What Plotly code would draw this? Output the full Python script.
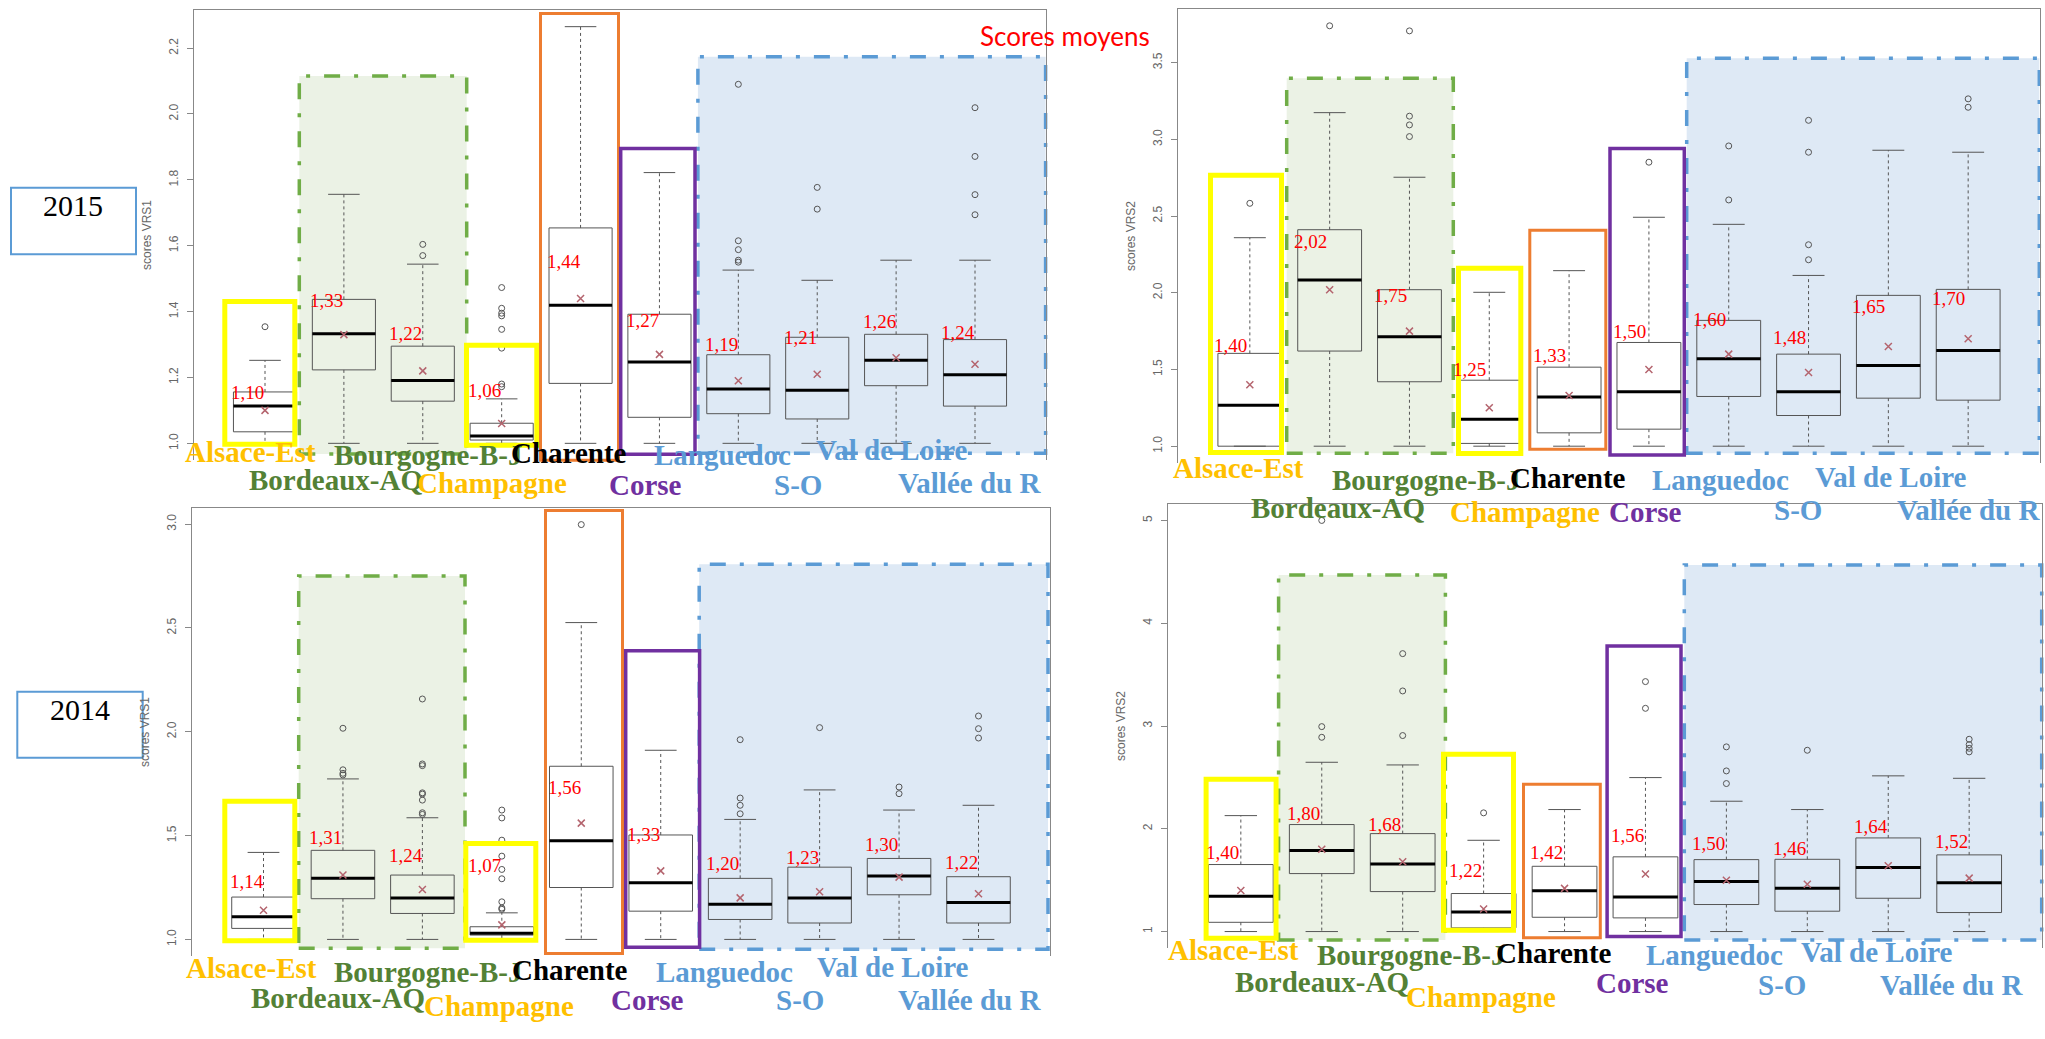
import plotly.graph_objects as go

# ---------------------------------------------------------------- data
REGIONS = ["Alsace-Est", "Bordeaux-AQ", "Bourgogne-B-J", "Champagne", "Charente",
           "Corse", "Languedoc", "S-O", "Val de Loire", "Vallée du R"]

# 2015 - scores VRS1
Q1_2015_VRS1 = [1.035, 1.223, 1.128, 1.010, 1.182, 1.079, 1.090, 1.074, 1.175, 1.113]
MED_2015_VRS1 = [1.113, 1.333, 1.191, 1.022, 1.419, 1.247, 1.165, 1.161, 1.252, 1.208]
Q3_2015_VRS1 = [1.156, 1.437, 1.295, 1.061, 1.654, 1.392, 1.269, 1.322, 1.331, 1.315]
LO_2015_VRS1 = [1.0] * 10
HI_2015_VRS1 = [1.252, 1.756, 1.544, 1.135, 2.265, 1.822, 1.526, 1.495, 1.556, 1.556]
MEAN_2015_VRS1 = [1.10, 1.33, 1.22, 1.06, 1.44, 1.27, 1.19, 1.21, 1.26, 1.24]
OUT_2015_VRS1 = [[1.354], [], [1.570, 1.604],
                 [1.172, 1.180, 1.289, 1.346, 1.387, 1.395, 1.410, 1.473],
                 [], [], [1.550, 1.556, 1.588, 1.615, 2.090], [1.711, 1.777], [],
                 [1.694, 1.755, 1.871, 2.019]]
TICKS_2015_VRS1 = [1.0, 1.2, 1.4, 1.6, 1.8, 2.0, 2.2]

# 2015 - scores VRS2
Q1_2015_VRS2 = [1.000, 1.620, 1.420, 1.018, 1.087, 1.111, 1.324, 1.200, 1.313, 1.300]
MED_2015_VRS2 = [1.267, 2.083, 1.713, 1.176, 1.320, 1.354, 1.570, 1.354, 1.526, 1.624]
Q3_2015_VRS2 = [1.605, 2.411, 2.020, 1.430, 1.515, 1.676, 1.820, 1.600, 1.983, 2.022]
LO_2015_VRS2 = [1.0] * 10
HI_2015_VRS2 = [2.359, 3.174, 2.753, 2.003, 2.144, 2.492, 2.446, 2.113, 2.929, 2.916]
MEAN_2015_VRS2 = [1.40, 2.02, 1.75, 1.25, 1.33, 1.50, 1.60, 1.48, 1.65, 1.70]
OUT_2015_VRS2 = [[2.583], [3.740], [3.018, 3.094, 3.151, 3.707], [], [], [2.851],
                 [2.605, 2.957], [2.215, 2.313, 2.916, 3.124], [], [3.209, 3.264]]
TICKS_2015_VRS2 = [1.0, 1.5, 2.0, 2.5, 3.0, 3.5]

# 2014 - scores VRS1
Q1_2014_VRS1 = [1.053, 1.196, 1.125, 1.021, 1.250, 1.136, 1.096, 1.079, 1.215, 1.079]
MED_2014_VRS1 = [1.109, 1.295, 1.200, 1.030, 1.475, 1.273, 1.169, 1.200, 1.305, 1.178]
Q3_2014_VRS1 = [1.204, 1.429, 1.310, 1.061, 1.834, 1.503, 1.294, 1.348, 1.390, 1.302]
LO_2014_VRS1 = [1.0] * 10
HI_2014_VRS1 = [1.419, 1.773, 1.586, 1.128, 2.526, 1.911, 1.578, 1.720, 1.623, 1.646]
MEAN_2014_VRS1 = [1.14, 1.31, 1.24, 1.07, 1.56, 1.33, 1.20, 1.23, 1.30, 1.22]
OUT_2014_VRS1 = [[], [1.792, 1.800, 1.817, 2.017],
                 [1.602, 1.610, 1.671, 1.700, 1.706, 1.837, 1.845, 2.158],
                 [1.145, 1.151, 1.181, 1.292, 1.337, 1.401, 1.478, 1.585, 1.623],
                 [2.998], [], [1.605, 1.646, 1.681, 1.962], [2.020], [1.702, 1.734],
                 [1.970, 2.015, 2.076]]
TICKS_2014_VRS1 = [1.0, 1.5, 2.0, 2.5, 3.0]

# 2014 - scores VRS2
Q1_2014_VRS2 = [1.090, 1.564, 1.389, 1.036, 1.139, 1.133, 1.263, 1.198, 1.324, 1.185]
MED_2014_VRS2 = [1.343, 1.788, 1.658, 1.191, 1.396, 1.337, 1.486, 1.421, 1.623, 1.474]
Q3_2014_VRS2 = [1.652, 2.041, 1.953, 1.370, 1.635, 1.727, 1.700, 1.703, 1.911, 1.746]
LO_2014_VRS2 = [1.0] * 10
HI_2014_VRS2 = [2.128, 2.647, 2.621, 1.888, 2.187, 2.498, 2.268, 2.187, 2.515, 2.491]
MEAN_2014_VRS2 = [1.40, 1.80, 1.68, 1.22, 1.42, 1.56, 1.50, 1.46, 1.64, 1.52]
OUT_2014_VRS2 = [[], [2.890, 2.994, 5.000], [2.907, 3.341, 3.704], [2.155], [],
                 [3.172, 3.432], [2.440, 2.563, 2.797], [2.764], [],
                 [2.748, 2.783, 2.819, 2.871]]
TICKS_2014_VRS2 = [1, 2, 3, 4, 5]

# ---------------------------------------------------------------- styles
W, H = 2045, 1039
GOLD, GREEN, PURPLE, BLUE = "#FFC000", "#538135", "#7030A0", "#5B9BD5"
REGION_COLORS = [GOLD, GREEN, GREEN, GOLD, "#000000", PURPLE, BLUE, BLUE, BLUE, BLUE]
BOX_HALF = 0.4
CAP_HALF = 0.2
AX_COLOR = "#888888"
BOX_COLOR = "#555555"
REGION_DASH = "16px,14px,4px,14px"


def px(x):
    return x / W


def py(y):
    return 1 - y / H


# panel layout: pixel frames, label nudges and overlay rectangles (x0, y0, x1, y1)
PANELS = [
    dict(data=(Q1_2015_VRS1, MED_2015_VRS1, Q3_2015_VRS1, LO_2015_VRS1, HI_2015_VRS1,
               MEAN_2015_VRS1, OUT_2015_VRS1), ticks=TICKS_2015_VRS1, fmt=".1f",
         title="scores VRS1", xpx=(194, 1046), ypx=(10, 460),
         mean_dx=-4, mean_dy=[-1, -1, 13, 33, -34, -6, 10, 0, 13, 7],
         cat_dx=[-15, -8, 6, -10, -12, -14, -16, -19, -4, -6],
         cat_y=[452, 480, 455, 483, 453, 485, 455, 485, 450, 483],
         green=(299.3, 76, 466.7, 454), blue=(697.9, 56.7, 1045.6, 453.3),
         yellow=[(224.8, 301.5, 294.8, 444.2), (466.5, 345.2, 536.8, 445.2)],
         orange=(540.5, 13.5, 618.5, 460.2), purple=(620.7, 148.4, 695, 454.2)),
    dict(data=(Q1_2015_VRS2, MED_2015_VRS2, Q3_2015_VRS2, LO_2015_VRS2, HI_2015_VRS2,
               MEAN_2015_VRS2, OUT_2015_VRS2), ticks=TICKS_2015_VRS2, fmt=".1f",
         title="scores VRS2", xpx=(1178, 2040), ypx=(9, 463),
         mean_dx=-6, mean_dy=[8, -12, -6, 11, 12, 11, 1, 17, -11, -9],
         cat_dx=[-11, 8, 17, 36, -1, -3, -8, -11, 3, 0],
         cat_y=[468, 508, 480, 512, 478, 512, 480, 510, 477, 510],
         green=(1286.7, 78.3, 1453.3, 453.3), blue=(1686.7, 58.3, 2039.3, 453.3),
         yellow=[(1210.5, 175.2, 1281.5, 452.5), (1458.5, 268.2, 1520.8, 453.5)],
         orange=(1529.8, 230.2, 1605.8, 449.2), purple=(1610, 148.4, 1684.3, 455)),
    dict(data=(Q1_2014_VRS1, MED_2014_VRS1, Q3_2014_VRS1, LO_2014_VRS1, HI_2014_VRS1,
               MEAN_2014_VRS1, OUT_2014_VRS1), ticks=TICKS_2014_VRS1, fmt=".1f",
         title="scores VRS1", xpx=(192, 1050), ypx=(508, 956),
         mean_dx=-4, mean_dy=[16, 13, 20, 61, -21, 0, 15, 10, 14, 14],
         cat_dx=[-12, -5, 6, -3, -11, -13, -16, -20, -6, -9],
         cat_y=[968, 998, 972, 1006, 970, 1000, 972, 1000, 967, 1000],
         green=(298.7, 576, 465, 948.3), blue=(699.2, 564.3, 1048, 949.3),
         yellow=[(224.8, 801.2, 294.8, 940.8), (465.8, 843.5, 535.8, 940.2)],
         orange=(545.5, 510.5, 622.5, 953.5), purple=(625.7, 650.7, 699.6, 947.3)),
    dict(data=(Q1_2014_VRS2, MED_2014_VRS2, Q3_2014_VRS2, LO_2014_VRS2, HI_2014_VRS2,
               MEAN_2014_VRS2, OUT_2014_VRS2), ticks=TICKS_2014_VRS2, fmt="d",
         title="scores VRS2", xpx=(1168, 2042), ypx=(504, 948),
         mean_dx=-4, mean_dy=[12, 11, 9, 23, 14, 21, 16, 11, 11, 13],
         cat_dx=[-7, 0, 9, -3, -11, -13, -12, -25, -11, -18],
         cat_y=[950, 982, 955, 997, 953, 983, 955, 985, 952, 985],
         green=(1278.6, 575, 1445.4, 940), blue=(1684.3, 565, 2041.7, 940),
         yellow=[(1206.1, 779.2, 1276.1, 938.2), (1443.5, 754.2, 1513.5, 930.2)],
         orange=(1523.5, 784.2, 1600.3, 937.8), purple=(1607.1, 646, 1681, 936.6)),
]

fig = go.Figure()
shapes, annotations = [], []
layout = {}


def rect(box, **kw):
    x0, y0, x1, y1 = box
    return dict(type="rect", xref="paper", yref="paper",
                x0=px(x0), x1=px(x1), y0=py(y1), y1=py(y0), **kw)


for n, p in enumerate(PANELS, start=1):
    q1, med, q3, lo, hi, mean, out = p["data"]
    sfx = "" if n == 1 else str(n)
    xa, ya = "x" + sfx, "y" + sfx
    pos = list(range(1, len(REGIONS) + 1))

    # boxes, medians, whiskers, caps
    bx, by, mx, my, wx, wy, cx, cy = [], [], [], [], [], [], [], []
    for i, a, m, b, l, h in zip(pos, q1, med, q3, lo, hi):
        bx += [i - BOX_HALF, i + BOX_HALF, i + BOX_HALF, i - BOX_HALF, i - BOX_HALF, None]
        by += [a, a, b, b, a, None]
        mx += [i - BOX_HALF, i + BOX_HALF, None]
        my += [m, m, None]
        wx += [i, i, None, i, i, None]
        wy += [b, h, None, a, l, None]
        cx += [i - CAP_HALF, i + CAP_HALF, None, i - CAP_HALF, i + CAP_HALF, None]
        cy += [h, h, None, l, l, None]
    ox, oy = [], []
    for i, pts in zip(pos, out):
        ox += [i] * len(pts)
        oy += pts

    common = dict(xaxis=xa, yaxis=ya, showlegend=False, hoverinfo="skip")
    fig.add_trace(go.Scatter(x=wx, y=wy, mode="lines",
                             line=dict(color=BOX_COLOR, width=1, dash="3px,3px"), **common))
    fig.add_trace(go.Scatter(x=cx, y=cy, mode="lines",
                             line=dict(color=BOX_COLOR, width=1), **common))
    fig.add_trace(go.Scatter(x=bx, y=by, mode="lines",
                             line=dict(color=BOX_COLOR, width=1), **common))
    fig.add_trace(go.Scatter(x=mx, y=my, mode="lines",
                             line=dict(color="#000000", width=3), **common))
    fig.add_trace(go.Scatter(x=ox, y=oy, mode="markers",
                             marker=dict(symbol="circle-open", size=6,
                                         color=BOX_COLOR, line=dict(width=1)), **common))
    fig.add_trace(go.Scatter(x=pos, y=mean, mode="markers",
                             marker=dict(symbol="x-thin", size=7,
                                         line=dict(width=1.5, color="#b4646e")), **common))

    # axes
    all_vals = lo + hi + [v for pts in out for v in pts]
    vmin, vmax = min(all_vals), max(all_vals)
    pad = 0.04 * (vmax - vmin)
    x0, x1 = p["xpx"]
    y0, y1 = p["ypx"]
    layout["xaxis" + sfx] = dict(domain=[px(x0), px(x1)], range=[0.1, 10.9], anchor=ya,
                                 side="top", showline=True, linecolor=AX_COLOR,
                                 linewidth=1, showticklabels=False, ticks="",
                                 showgrid=False, zeroline=False)
    ticktext = [format(t, p["fmt"]) for t in p["ticks"]]
    layout["yaxis" + sfx] = dict(domain=[py(y1), py(y0)], range=[vmin - pad, vmax + pad],
                                 anchor=xa, tickvals=p["ticks"], ticktext=ticktext,
                                 ticks="outside", ticklen=6, tickcolor=AX_COLOR,
                                 tickangle=-90, ticklabelstandoff=4,
                                 tickfont=dict(family="Liberation Sans", size=12,
                                               color="#666666"),
                                 showline=True, mirror=True, linecolor=AX_COLOR,
                                 linewidth=1, showgrid=False, zeroline=False)

    annotations.append(dict(text=p["title"], xref="paper", yref="paper",
                            x=px(x0 - 47), y=py((y0 + y1) / 2), textangle=-90,
                            showarrow=False, xanchor="center", yanchor="middle",
                            font=dict(family="Liberation Sans", size=12, color="#666666")))

    # regional groupings
    shapes.append(rect(p["green"], layer="below", fillcolor="#EBF2E5",
                       line=dict(color="#70AD47", width=3.5, dash=REGION_DASH)))
    shapes.append(rect(p["blue"], layer="below", fillcolor="#DEE9F5",
                       line=dict(color=BLUE, width=3.5, dash=REGION_DASH)))
    for yb in p["yellow"]:
        shapes.append(rect(yb, line=dict(color="#FFFF00", width=5)))
    shapes.append(rect(p["orange"], line=dict(color="#ED7D31", width=3)))
    shapes.append(rect(p["purple"], line=dict(color=PURPLE, width=3.5)))

    # mean value labels
    for i, m, b, dy in zip(pos, mean, q3, p["mean_dy"]):
        annotations.append(dict(text=f"{m:.2f}".replace(".", ","), xref=xa, yref=ya,
                                x=i - BOX_HALF, y=b, xshift=p["mean_dx"], yshift=dy,
                                xanchor="left", yanchor="middle", showarrow=False,
                                font=dict(family="Liberation Serif", size=19,
                                          color="#FF0000")))

    # region names
    for i, name, col, dx, cyp in zip(pos, REGIONS, REGION_COLORS, p["cat_dx"], p["cat_y"]):
        annotations.append(dict(text=f"<b>{name}</b>", xref=xa, yref="paper",
                                x=i, y=py(cyp), xshift=dx, xanchor="center",
                                yanchor="middle", showarrow=False,
                                font=dict(family="Liberation Serif", size=29, color=col)))

# year boxes
for year, box, (tx, ty) in [("2015", (11, 187.7, 136, 254.3), (73, 205)),
                            ("2014", (17.3, 691.7, 142.7, 757.7), (80, 709))]:
    shapes.append(rect(box, line=dict(color=BLUE, width=2)))
    annotations.append(dict(text=year, xref="paper", yref="paper", x=px(tx), y=py(ty),
                            xanchor="center", yanchor="middle", showarrow=False,
                            font=dict(family="Liberation Serif", size=30, color="#000000")))

annotations.append(dict(text="Scores moyens", xref="paper", yref="paper",
                        x=px(1065), y=py(36), xanchor="center", yanchor="middle",
                        showarrow=False,
                        font=dict(family="Lato", size=26, color="#FF0000")))

fig.update_layout(width=W, height=H, margin=dict(l=0, r=0, t=0, b=0),
                  paper_bgcolor="#FFFFFF", plot_bgcolor="rgba(0,0,0,0)",
                  shapes=shapes, annotations=annotations, **layout)

fig.write_html("out.html")
